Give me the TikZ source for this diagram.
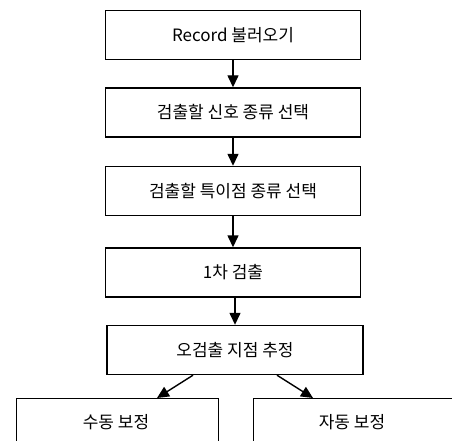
\documentclass[tikz,border=0pt]{standalone}
\usepackage{fontspec}
\setmainfont{Noto Sans CJK KR}
\usetikzlibrary{arrows.meta}
\begin{document}
\begin{tikzpicture}[x=1pt,y=-1pt,
  txt/.style={font=\fontsize{17}{20}\selectfont},
  box/.style={draw,line width=1.4pt,minimum height=49pt,inner sep=0pt,txt},
  arr/.style={line width=1.4pt,-{Triangle[length=12pt,width=11pt]}}]
\useasboundingbox (0,0) rectangle (452,441);
\clip (0,0) rectangle (452,441);
\node[box,minimum width=255pt] (a) at (233,35) {Record 불러오기};
\node[box,minimum width=255pt] (b) at (233,112.5) {검출할 신호 종류 선택};
\node[box,minimum width=255pt] (c) at (233,191) {검출할 특이점 종류 선택};
\node[box,minimum width=255pt] (d) at (233,272.5) {1차 검출};
\node[box,minimum width=256pt] (e) at (235,350) {오검출 지점 추정};
\node[box,minimum width=202pt,minimum height=60pt,anchor=north west] (f) at (16,398) {};
\node[box,minimum width=250pt,minimum height=60pt,anchor=north west] (g) at (253,398) {};
\node[txt] (ft) at (116,422) {수동 보정};
\node[txt] (gt) at (352,422) {자동 보정};
\draw[arr] (a) -- (b);
\draw[arr] (b) -- (c);
\draw[arr] (c) -- (d);
\draw[arr] (d.south -| e.north) -- (e);
\draw[arr] (e.south -| 193,0) -- (157,398);
\draw[arr] (e.south -| 277,0) -- (313,398);
\end{tikzpicture}
\end{document}
